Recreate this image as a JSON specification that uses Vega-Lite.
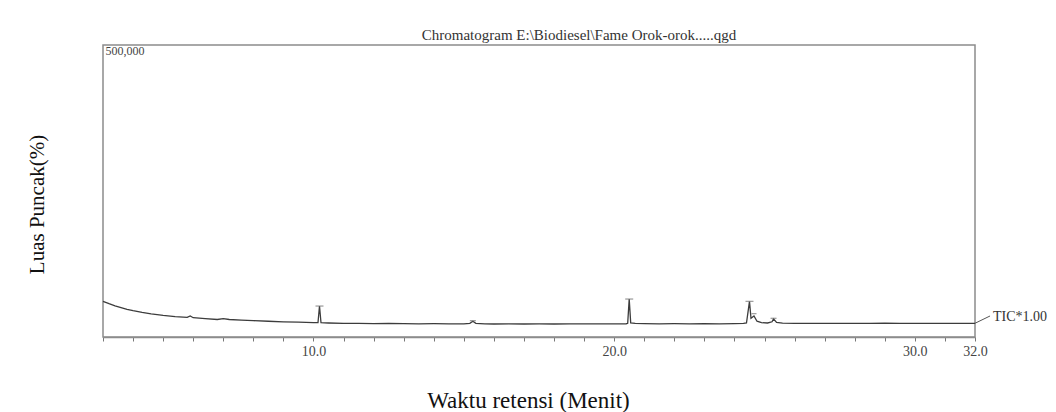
{
  "$schema": "https://vega.github.io/schema/vega-lite/v6.json",
  "width": 872,
  "height": 292,
  "autosize": {"type": "none"},
  "padding": {"left": 103, "top": 45, "right": 81, "bottom": 75},
  "background": "white",
  "config": {
    "view": {"stroke": "#8c8c8c", "strokeWidth": 1.5},
    "font": "Liberation Serif"
  },
  "title": {
    "text": "Chromatogram  E:\\Biodiesel\\Fame Orok-orok.....qgd",
    "font": "Liberation Serif",
    "fontSize": 15,
    "fontWeight": "normal",
    "color": "#333333",
    "anchor": "middle",
    "dx": 40,
    "offset": 1
  },
  "datasets": {
    "trace": [
      {"t": 3.0, "v": 61000}, {"t": 3.2, "v": 57000}, {"t": 3.4, "v": 53500}, {"t": 3.6, "v": 50500},
      {"t": 3.8, "v": 47500}, {"t": 4.0, "v": 45000}, {"t": 4.3, "v": 42000}, {"t": 4.6, "v": 39500},
      {"t": 5.0, "v": 37000}, {"t": 5.4, "v": 35000}, {"t": 5.8, "v": 33500}, {"t": 5.9, "v": 36000},
      {"t": 6.0, "v": 33000}, {"t": 6.4, "v": 31500}, {"t": 6.8, "v": 30000}, {"t": 7.0, "v": 31500},
      {"t": 7.2, "v": 30000}, {"t": 7.6, "v": 29000}, {"t": 8.0, "v": 28000}, {"t": 8.5, "v": 27000},
      {"t": 9.0, "v": 26000}, {"t": 9.5, "v": 25500}, {"t": 10.0, "v": 24500}, {"t": 10.15, "v": 24500},
      {"t": 10.2, "v": 53000}, {"t": 10.25, "v": 24500}, {"t": 10.5, "v": 24000}, {"t": 11.0, "v": 23500},
      {"t": 11.5, "v": 23500}, {"t": 12.0, "v": 23000}, {"t": 12.5, "v": 23200}, {"t": 13.0, "v": 22800},
      {"t": 13.5, "v": 22600}, {"t": 14.0, "v": 22800}, {"t": 14.5, "v": 22500}, {"t": 15.0, "v": 22600},
      {"t": 15.2, "v": 23500}, {"t": 15.3, "v": 27000}, {"t": 15.4, "v": 23500}, {"t": 15.7, "v": 22500},
      {"t": 16.0, "v": 22300}, {"t": 16.5, "v": 22600}, {"t": 17.0, "v": 22300}, {"t": 17.5, "v": 22500},
      {"t": 18.0, "v": 22300}, {"t": 18.5, "v": 22600}, {"t": 19.0, "v": 22400}, {"t": 19.5, "v": 22500},
      {"t": 20.0, "v": 22400}, {"t": 20.4, "v": 22700}, {"t": 20.45, "v": 23500}, {"t": 20.5, "v": 65000},
      {"t": 20.55, "v": 24000}, {"t": 20.7, "v": 23200}, {"t": 21.0, "v": 22800}, {"t": 21.5, "v": 22600},
      {"t": 22.0, "v": 22800}, {"t": 22.5, "v": 22500}, {"t": 23.0, "v": 22700}, {"t": 23.5, "v": 22600},
      {"t": 24.0, "v": 22900}, {"t": 24.3, "v": 23200}, {"t": 24.4, "v": 24000}, {"t": 24.5, "v": 61000},
      {"t": 24.55, "v": 32000}, {"t": 24.65, "v": 36000}, {"t": 24.75, "v": 27000}, {"t": 24.9, "v": 24500},
      {"t": 25.1, "v": 24000}, {"t": 25.25, "v": 26000}, {"t": 25.3, "v": 31000}, {"t": 25.4, "v": 25000},
      {"t": 25.6, "v": 23800}, {"t": 26.0, "v": 23500}, {"t": 26.5, "v": 23200}, {"t": 27.0, "v": 23400},
      {"t": 27.5, "v": 23200}, {"t": 28.0, "v": 23400}, {"t": 28.5, "v": 23300}, {"t": 29.0, "v": 23600},
      {"t": 29.5, "v": 23300}, {"t": 30.0, "v": 23500}, {"t": 30.5, "v": 23200}, {"t": 31.0, "v": 23400},
      {"t": 31.5, "v": 23200}, {"t": 32.0, "v": 23500}
    ],
    "peaks": [
      {"t": 10.2, "v": 53000, "w": 8},
      {"t": 15.3, "v": 28000, "w": 6},
      {"t": 20.5, "v": 65000, "w": 8},
      {"t": 24.5, "v": 61000, "w": 8},
      {"t": 24.65, "v": 40000, "w": 5},
      {"t": 25.3, "v": 32000, "w": 6}
    ],
    "tic": [
      {"t": 32.0, "v": 23500, "t2": 32.5, "v2": 36000, "label": "TIC*1.00", "lt": 32.6, "lv": 35000}
    ]
  },
  "layer": [
    {
      "data": {"name": "trace"},
      "mark": {"type": "line", "color": "#3c3c3c", "strokeWidth": 1.3, "interpolate": "linear"},
      "encoding": {
        "x": {
          "field": "t", "type": "quantitative",
          "scale": {"domain": [3, 32], "nice": false, "zero": false},
          "axis": {
            "title": "Waktu retensi (Menit)",
            "titleFont": "Liberation Serif",
            "titleFontSize": 23,
            "titleFontWeight": "normal",
            "titleColor": "#111111",
            "titleX": 425,
            "titleY": 63,
            "titleBaseline": "middle",
            "titleAnchor": "start",
            "titleAlign": "center",
            "tickCount": 60,
            "values": [3,4,5,6,7,8,9,10,11,12,13,14,15,16,17,18,19,20,21,22,23,24,25,26,27,28,29,30,31,32],
            "labelExpr": "(datum.value == 10 || datum.value == 20 || datum.value == 30 || datum.value == 32) ? format(datum.value, '.1f') : ''",
            "labelFont": "Liberation Serif",
            "labelFontSize": 14,
            "labelColor": "#444444",
            "labelOverlap": false,
            "labelFlush": false,
            "labelPadding": 3,
            "labelBound": false,
            "tickSize": 4,
            "tickColor": "#777777",
            "tickWidth": 1,
            "domainColor": "#8c8c8c",
            "domainWidth": 1.5,
            "grid": false
          }
        },
        "y": {
          "field": "v", "type": "quantitative",
          "scale": {"domain": [0, 500000], "nice": false},
          "axis": {
            "title": "Luas Puncak(%)",
            "titleFont": "Liberation Serif",
            "titleFontSize": 21,
            "titleFontWeight": "normal",
            "titleColor": "#111111",
            "titleAngle": -90,
            "titleX": -66,
            "titleY": 159,
            "titleAlign": "center",
            "titleBaseline": "middle",
            "values": [500000],
            "format": ",d",
            "labelFont": "Liberation Serif",
            "labelFontSize": 12,
            "labelColor": "#444444",
            "labelAlign": "left",
            "labelBaseline": "top",
            "labelPadding": -2,
            "ticks": false,
            "domain": false,
            "grid": false
          }
        }
      }
    },
    {
      "data": {"name": "peaks"},
      "mark": {"type": "tick", "orient": "horizontal", "color": "#777777", "thickness": 1.3},
      "encoding": {
        "x": {"field": "t", "type": "quantitative"},
        "y": {"field": "v", "type": "quantitative"},
        "size": {"field": "w", "type": "quantitative", "scale": null, "legend": null}
      }
    },
    {
      "data": {"name": "tic"},
      "mark": {"type": "rule", "color": "#555555", "strokeWidth": 1},
      "encoding": {
        "x": {"field": "t", "type": "quantitative"},
        "x2": {"field": "t2"},
        "y": {"field": "v", "type": "quantitative"},
        "y2": {"field": "v2"}
      }
    },
    {
      "data": {"name": "tic"},
      "mark": {"type": "text", "align": "left", "baseline": "middle", "font": "Liberation Serif", "fontSize": 14, "color": "#333333"},
      "encoding": {
        "x": {"field": "lt", "type": "quantitative"},
        "y": {"field": "lv", "type": "quantitative"},
        "text": {"field": "label"}
      }
    }
  ]
}
